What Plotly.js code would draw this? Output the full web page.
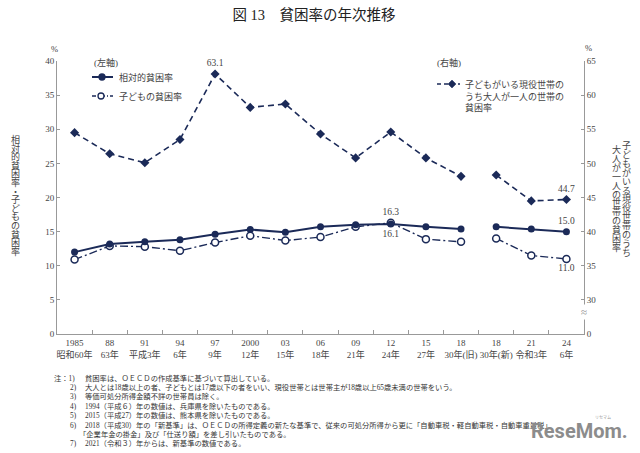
<!DOCTYPE html>
<html><head><meta charset="utf-8">
<script src="https://cdn.plot.ly/plotly-3.0.1.min.js"></script>
<style>html,body{margin:0;padding:0;background:#fff}#c{width:640px;height:453px}</style>
</head><body><div id="c"></div>
<script>
// ---- data ----
const categories = ["1985<br>昭和60年","88<br>63年","91<br>平成3年","94<br>6年","97<br>9年","2000<br>12年","03<br>15年","06<br>18年","09<br>21年","12<br>24年","15<br>27年","18<br>30年(旧)","18<br>30年(新)","21<br>令和3年","24<br>6年"];
const relativePoverty = [12.0,13.2,13.5,13.8,14.6,15.3,14.9,15.7,16.0,16.1,15.7,15.4,15.7,15.4,15.0];
const childPoverty    = [10.9,12.9,12.8,12.2,13.4,14.4,13.7,14.2,15.7,16.3,13.9,13.5,14.0,11.5,11.0];
const singleAdult     = [54.5,51.4,50.1,53.5,63.1,58.2,58.7,54.3,50.8,54.6,50.8,48.1,48.3,44.5,44.7];
const relLabels   = ["","","","","","","","","","16.1","","","","","15.0"];
const childLabels = ["","","","","","","","","","16.3","","","","","11.0"];
const singleLabels= ["","","","","63.1","","","","","","","","","","44.7"];
const leftTicks = [0,5,10,15,20,25,30,35,40];
const rightTickVals = [25,30,35,40,45,50,55,60,65];
const rightTickText = ["0","30","35","40","45","50","55","60","65"];
const notes = [
 ["注：1)","貧困率は、ＯＥＣＤの作成基準に基づいて算出している。"],
 ["2)","大人とは18歳以上の者、子どもとは17歳以下の者をいい、現役世帯とは世帯主が18歳以上65歳未満の世帯をいう。"],
 ["3)","等価可処分所得金額不詳の世帯員は除く。"],
 ["4)","1994（平成６）年の数値は、兵庫県を除いたものである。"],
 ["5)","2015（平成27）年の数値は、熊本県を除いたものである。"],
 ["6)","2018（平成30）年の「新基準」は、ＯＥＣＤの所得定義の新たな基準で、従来の可処分所得から更に「自動車税・軽自動車税・自動車重量税」、"],
 ["","「企業年金の掛金」及び「仕送り額」を差し引いたものである。"],
 ["7)","2021（令和３）年からは、新基準の数値である。"]
];

// ---- style ----
const NAVY = "#1b2a58";
const SERIF = "'Liberation Serif','Noto Sans CJK JP',serif";
const GRAY = "#444";
const L = 57, R = 584, T = 61, B = 334;
const px = x => (x - L) / (R - L);
const py = y => (B - y) / (B - T);

const oldIdx = [0,1,2,3,4,5,6,7,8,9,10,11];
const newIdx = [12,13,14];
const pick = (arr, idx) => idx.map(i => arr[i]);

function series(vals, labels, idx, opts) {
  return Object.assign({
    type: "scatter", mode: "lines+markers+text",
    x: pick(categories, idx), y: pick(vals, idx), text: pick(labels, idx),
    textfont: {family: SERIF, size: 9.5, color: GRAY},
    showlegend: false, hoverinfo: "skip", cliponaxis: false
  }, opts);
}
const traces = [];
[oldIdx, newIdx].forEach(idx => {
  traces.push(series(singleAdult, singleLabels, idx, {
    yaxis: "y2", line: {color: NAVY, width: 1.6, dash: "6px,4px"},
    marker: {symbol: "diamond", size: 7, color: NAVY}, textposition: "top center"}));
  traces.push(series(childPoverty, childLabels, idx, {
    line: {color: NAVY, width: 1.4, dash: "8px,3px,2px,3px"},
    marker: {symbol: "circle", size: 7, color: "#fff", line: {color: NAVY, width: 1.5}},
    textposition: idx === oldIdx ? "top center" : "bottom center"}));
  traces.push(series(relativePoverty, relLabels, idx, {
    line: {color: NAVY, width: 2}, marker: {symbol: "circle", size: 7, color: NAVY},
    textposition: idx === oldIdx ? "bottom center" : "top center"}));
});

const ann = [];
const shapes = [];
function txt(x, y, t, o) {
  ann.push(Object.assign({xref: "paper", yref: "paper", x: px(x), y: py(y), text: t, showarrow: false,
    xanchor: "left", yanchor: "middle", font: {family: SERIF, size: 9, color: GRAY}}, o || {}));
}
// vertical column of upright characters: tight line pitch, larger glyphs
function vcol(x, yTop, str, pitch, glyph) {
  const base = pitch / 1.3;
  const body = [...str].map(ch => '<span style="font-size:' + glyph + 'px">' + ch + '</span>').join("<br>");
  const n = [...str].length;
  txt(x, yTop - pitch / 2 + n * pitch / 2, body, {xanchor: "center", yanchor: "middle",
    font: {family: SERIF, size: base, color: "#444"}});
}
// % labels
txt(54, 49, "%", {xanchor: "center", font: {family: SERIF, size: 8.5, color: GRAY}});
txt(588, 48, "%", {xanchor: "center", font: {family: SERIF, size: 8.5, color: GRAY}});
// vertical titles
vcol(15, 140, "相対的貧困率・子どもの貧困率", 8.6, 9);
vcol(626, 146, "子どもがいる現役世帯のうち", 8.9, 9);
vcol(616, 150, "大人が一人の世帯の貧困率", 8.9, 9);
// axis break mark
txt(584, 312, "≈", {xanchor: "center", bgcolor: "#fff", font: {family: SERIF, size: 11, color: "#888"}});

// legend (manual)
txt(92, 63, "(左軸)");
txt(117, 77, "相対的貧困率");
txt(117, 96, "子どもの貧困率");
txt(435, 63, "(右軸)");
txt(463, 96, "子どもがいる現役世帯の<br>うち大人が一人の世帯の<br>貧困率", {yanchor: "middle", align: "left"});
function hline(x0, x1, y, dash, w) {
  shapes.push({type: "line", xref: "paper", yref: "paper", x0: px(x0), x1: px(x1), y0: py(y), y1: py(y), line: {color: NAVY, width: w, dash: dash}});
}
function circ(x, y, r, fill) {
  shapes.push({type: "circle", xref: "paper", yref: "paper", xsizemode: "pixel", ysizemode: "pixel",
    xanchor: px(x), yanchor: py(y), x0: -r, x1: r, y0: -r, y1: r, fillcolor: fill, line: {color: NAVY, width: 1.3}});
}
hline(92, 113, 77, "solid", 2); circ(102, 77, 3, NAVY);
hline(92, 113, 96, "4px,2px,1px,2px", 1.3); circ(101, 96, 3, "#fff");
hline(437, 460, 84, "4px,3px", 1.5);
shapes.push({type: "path", xref: "paper", yref: "paper", xsizemode: "pixel", ysizemode: "pixel",
  xanchor: px(452), yanchor: py(84), path: "M 0 4 L 4 0 L 0 -4 L -4 0 Z", fillcolor: NAVY, line: {color: NAVY, width: 0.5}});

// notes
const noteY0 = 378, noteStep = 9.4;
notes.forEach((n, i) => {
  const y = noteY0 + i * noteStep;
  if (n[0]) txt(i === 0 ? 52 : 68, y, n[0], {font: {family: SERIF, size: 7.3, color: "#333"}});
  txt(i === 6 ? 77 : 83, y, n[1], {font: {family: SERIF, size: 7.3, color: "#333"}});
});
// watermark
txt(579, 431, "ReseMom.", {xanchor: "center", font: {family: "Roboto, 'Liberation Sans', sans-serif", size: 20, color: "#8c8c8c", weight: "bold"}});
txt(603, 417, "リセマム", {xanchor: "center", font: {family: "'Noto Sans CJK JP'", size: 4, color: "#999"}});

const layout = {
  width: 640, height: 453,
  margin: {l: L, r: 640 - R, t: T, b: 453 - B, pad: 0},
  paper_bgcolor: "#fff", plot_bgcolor: "#fff",
  showlegend: false,
  title: {text: "図 13　貧困率の年次推移", xref: "container", x: 314/640, xanchor: "center",
          yref: "container", y: 1 - 15/453, yanchor: "middle", font: {family: SERIF, size: 14.5, color: "#222"}},
  xaxis: {type: "category", categoryorder: "array", categoryarray: categories, range: [-0.5, 14.5],
    showline: true, linecolor: "#999", linewidth: 1, ticks: "inside", tickson: "boundaries", ticklen: 4,
    tickcolor: "#999", showgrid: false, zeroline: false, fixedrange: true, tickangle: 0,
    tickfont: {family: SERIF, size: 9, color: GRAY}},
  yaxis: {range: [0, 40], tickvals: leftTicks, showline: true, linecolor: "#999", linewidth: 1,
    ticks: "inside", ticklen: 3, tickcolor: "#999", showgrid: false, zeroline: false,
    tickfont: {family: SERIF, size: 9, color: GRAY}},
  yaxis2: {overlaying: "y", side: "right", range: [25, 65], tickvals: rightTickVals, ticktext: rightTickText,
    showline: true, linecolor: "#999", linewidth: 1, ticks: "inside", ticklen: 3, tickcolor: "#999",
    showgrid: false, zeroline: false, tickfont: {family: SERIF, size: 9, color: GRAY}},
  annotations: ann, shapes: shapes
};
Plotly.newPlot("c", traces, layout, {staticPlot: true, displayModeBar: false});
</script></body></html>
